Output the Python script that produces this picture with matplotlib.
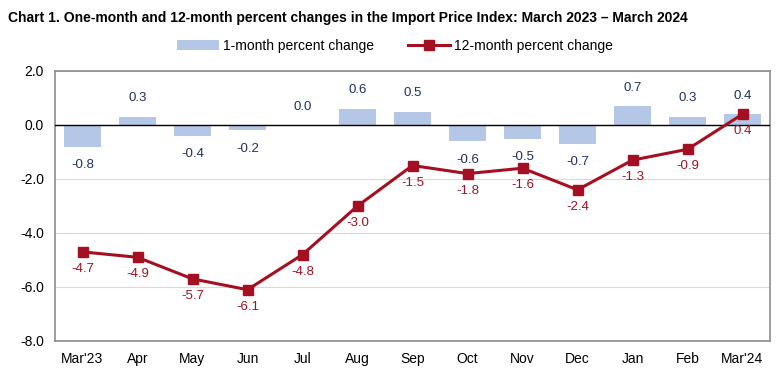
import matplotlib.pyplot as plt
import numpy as np

months = ["Mar'23", "Apr", "May", "Jun", "Jul", "Aug", "Sep", "Oct", "Nov", "Dec", "Jan", "Feb", "Mar'24"]
one_month = [-0.8, 0.3, -0.4, -0.2, 0.0, 0.6, 0.5, -0.6, -0.5, -0.7, 0.7, 0.3, 0.4]
twelve_month = [-4.7, -4.9, -5.7, -6.1, -4.8, -3.0, -1.5, -1.8, -1.6, -2.4, -1.3, -0.9, 0.4]

plt.rcParams['font.family'] = ['Liberation Sans', 'DejaVu Sans']

bar_color = "#B4C7E7"
line_color = "#A50F22"
navy = "#1F2F5F"

fig = plt.figure(figsize=(7.8, 3.74), dpi=100)
ax = fig.add_axes([55 / 780, 1 - 341 / 374, 715 / 780, 270 / 374])

x = np.arange(len(months))
bars = ax.bar(x, one_month, width=0.66, color=bar_color, label="1-month percent change", zorder=2)
line, = ax.plot(x, twelve_month, color=line_color, lw=2.2, marker="s", ms=7,
                label="12-month percent change", zorder=4)
ax.axhline(0, color="black", lw=1, zorder=3)

# labels
for xi, v in zip(x, one_month):
    if v >= 0:
        ax.annotate(f"{v:.1f}", (xi, v), xytext=(0, 9), textcoords="offset points",
                    ha="center", va="bottom", color=navy, fontsize=9.5)
    else:
        ax.annotate(f"{v:.1f}", (xi, v), xytext=(0, -9), textcoords="offset points",
                    ha="center", va="top", color=navy, fontsize=9.5)
for xi, v in zip(x, twelve_month):
    ax.annotate(f"{v:.1f}", (xi, v), xytext=(0, -8), textcoords="offset points",
                ha="center", va="top", color=line_color, fontsize=9.5)

ax.set_xlim(-0.5, 12.5)
ax.set_ylim(-8, 2)
ax.set_yticks(np.arange(-8, 2.1, 2))
ax.set_yticklabels([f"{t:.1f}" for t in np.arange(-8, 2.1, 2)])
ax.set_xticks(x)
ax.set_xticklabels(months)
ax.tick_params(length=0, labelsize=10, pad=8)
ax.grid(axis="y", color="#D9D9D9", lw=0.8, zorder=0)
for s in ax.spines.values():
    s.set_color("#8C8C8C")
    s.set_linewidth(1.2)

fig.text(8 / 780, 1 - 18 / 374, "Chart 1. One-month and 12-month percent changes in the Import Price Index: March 2023 \u2013 March 2024",
         fontsize=10, fontweight="bold", va="center", ha="left")
fig.legend([bars, line], ["1-month percent change", "12-month percent change"],
           loc="center", bbox_to_anchor=(395 / 780, 1 - 46 / 374), ncol=2, frameon=False,
           fontsize=10, handlelength=3, columnspacing=2.5, handletextpad=0.3)

fig.savefig("out.png", dpi=100)
